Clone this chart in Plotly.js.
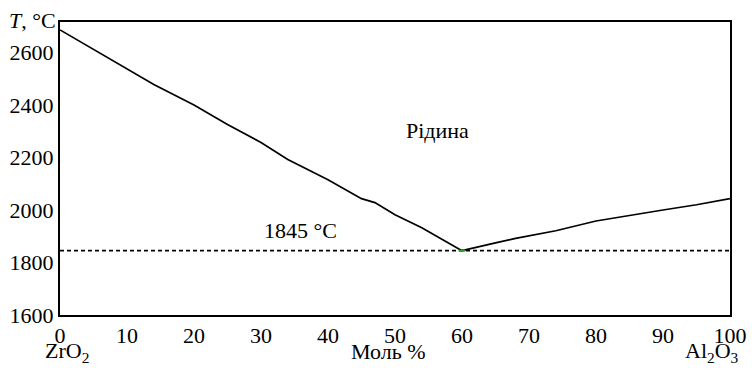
<!DOCTYPE html>
<html><head><meta charset="utf-8">
<script src="https://cdn.plot.ly/plotly-3.0.1.min.js"></script>
<style>body{margin:0;background:#fff}#c{width:752px;height:371px}</style>
</head><body><div id="c"></div>
<script>
const leftX = [0, 5, 10, 14, 20, 25, 30, 34, 40, 45, 47, 50, 54, 60];
const leftT = [2686, 2612, 2540, 2478, 2400, 2326, 2257, 2192, 2115, 2043, 2028, 1982, 1932, 1845];
const rightX = [60, 62, 65, 68, 74, 80, 85, 90, 95, 100];
const rightT = [1845, 1858, 1875, 1892, 1921, 1958, 1980, 2000, 2020, 2043];
const eutecticT = 1845;
const yTicks = [1600, 1800, 2000, 2200, 2400, 2600];
const xTicks = [0, 10, 20, 30, 40, 50, 60, 70, 80, 90, 100];

function F() { return {family: 'Liberation Serif', size: 22, color: '#000'}; }
const data = [
  {x: leftX, y: leftT, mode: 'lines', line: {color: '#000', width: 1.7}, hoverinfo: 'skip'},
  {x: rightX, y: rightT, mode: 'lines', line: {color: '#000', width: 1.7}, hoverinfo: 'skip'},
  {x: [0, 100], y: [eutecticT, eutecticT], mode: 'lines', line: {color: '#000', width: 1.7, dash: '4px,3px'}, hoverinfo: 'skip'},
  {x: [59.5, 60.5], y: [eutecticT, eutecticT], mode: 'lines', line: {color: '#2a9d2a', width: 2}, hoverinfo: 'skip'}
];
const layout = {
  width: 752, height: 371,
  margin: {l: 60, r: 22, t: 22, b: 56},
  showlegend: false,
  paper_bgcolor: '#fff', plot_bgcolor: '#fff',
  font: F(),
  xaxis: {range: [0, 100], tickvals: xTicks, ticktext: xTicks.map(String), showgrid: false, zeroline: false,
          showline: true, mirror: true, linecolor: '#000', linewidth: 2, ticks: '', ticklen: 0, tickfont: F()},
  yaxis: {range: [1600, 2716], tickvals: yTicks, ticktext: yTicks.map(String), showgrid: false, zeroline: false,
          showline: true, mirror: true, linecolor: '#000', linewidth: 2, ticks: '', ticklen: 0, tickfont: F()},
  annotations: [
    {xref: 'paper', yref: 'paper', x: 0, y: 1, xanchor: 'right', yanchor: 'middle', xshift: -2, yshift: 2, text: '<i>T</i>, °C', showarrow: false, font: F()},
    {xref: 'x', yref: 'y', x: 56.3, y: 2301, xanchor: 'center', yanchor: 'middle', text: 'Рідина', showarrow: false, font: F()},
    {xref: 'x', yref: 'y', x: 35.9, y: 1920, xanchor: 'center', yanchor: 'middle', text: '1845 °C', showarrow: false, font: F()},
    {xref: 'paper', yref: 'paper', x: 0.011, y: -0.126, xanchor: 'center', yanchor: 'middle', text: 'ZrO<sub>2</sub>', showarrow: false, font: F()},
    {xref: 'paper', yref: 'paper', x: 0.491, y: -0.126, xanchor: 'center', yanchor: 'middle', text: 'Моль %', showarrow: false, font: F()},
    {xref: 'paper', yref: 'paper', x: 0.973, y: -0.126, xanchor: 'center', yanchor: 'middle', text: 'Al<sub>2</sub>O<sub>3</sub>', showarrow: false, font: F()}
  ]
};
Plotly.newPlot('c', data, layout, {staticPlot: true, displayModeBar: false});
</script></body></html>
